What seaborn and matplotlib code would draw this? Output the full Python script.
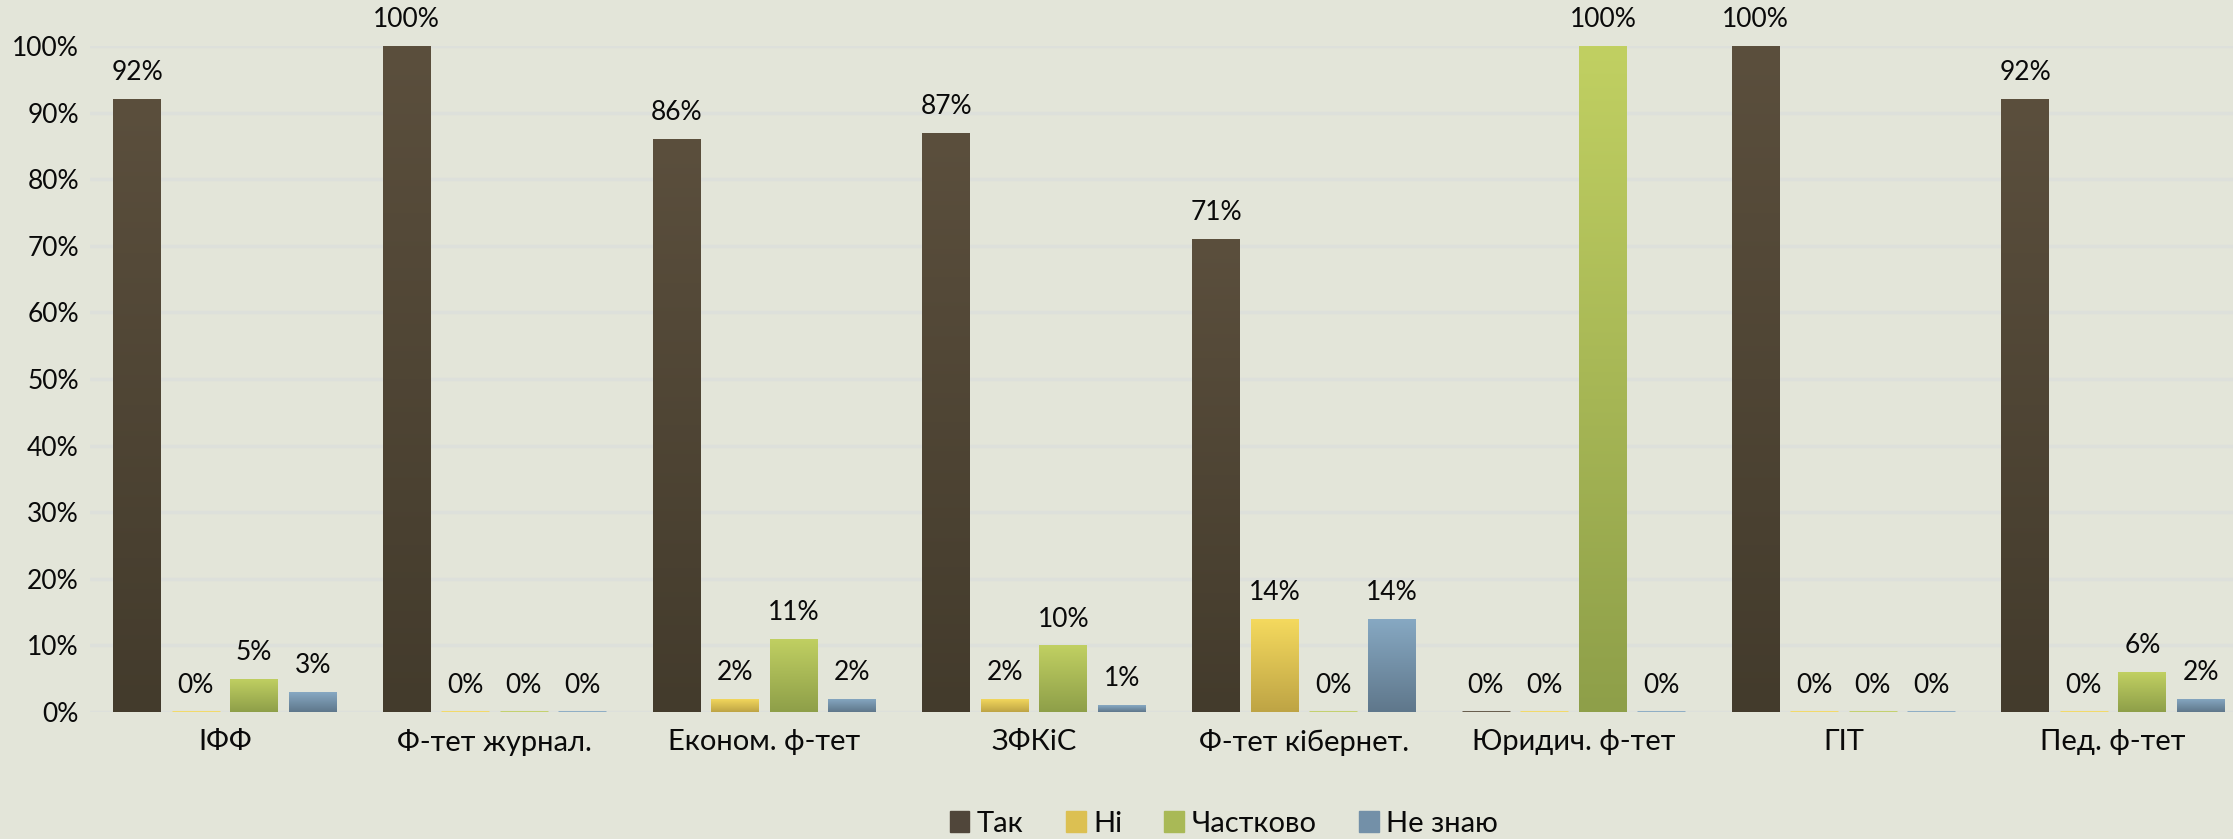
import numpy as np
import pandas as pd
import matplotlib.pyplot as plt
import matplotlib.patches as mpatches
from matplotlib.colors import LinearSegmentedColormap
import seaborn as sns

# --- data
faculties = ['ІФФ', 'Ф-тет журнал.', 'Економ. ф-тет', 'ЗФКіС',
             'Ф-тет кібернет.', 'Юридич. ф-тет', 'ГІТ', 'Пед. ф-тет']
answers = ['Так', 'Ні', 'Частково', 'Не знаю']
tak = [92, 100, 86, 87, 71, 0, 100, 92]
ni = [0, 0, 2, 2, 14, 0, 0, 0]
chastkovo = [5, 0, 11, 10, 0, 100, 0, 6]
ne_znayu = [3, 0, 2, 1, 14, 0, 0, 2]

# top / bottom colours of the gradient fills
tops = ['#5b4f3d', '#f5da5e', '#c1d062', '#87a9c3']
bottoms = ['#433b2c', '#bea445', '#8e9f49', '#5f778b']
mids = ['#50463a', '#dcc052', '#a9b956', '#7390a8']

bg = '#e3e5d9'

rows = []
for vals, ans in zip([tak, ni, chastkovo, ne_znayu], answers):
    for fac, v in zip(faculties, vals):
        rows.append({'faculty': fac, 'answer': ans, 'value': v})
df = pd.DataFrame(rows)

sns.set_theme(style='white')
plt.rcParams['font.family'] = ['Lato', 'DejaVu Sans']

fig = plt.figure(figsize=(22.33, 8.39), dpi=100, facecolor=bg)
# plot area runs slightly past the right edge of the image, as in the original
ax = fig.add_axes([90 / 2233, 1 - 712 / 839, (2248 - 90) / 2233, (712 - 46) / 839])
ax.set_facecolor(bg)

sns.barplot(data=df, x='faculty', y='value', hue='answer', order=faculties,
            hue_order=answers, palette=mids, width=0.868, gap=0.18,
            linewidth=0, ax=ax, legend=False, zorder=3)

ax.set_ylim(0, 100)
ax.set_xlim(-0.5, len(faculties) - 0.5)
ax.set_yticks(range(0, 101, 10))
ax.set_yticklabels([f'{t}%' for t in range(0, 101, 10)])
ax.yaxis.grid(True, color='#dde0db', linewidth=2.5, zorder=0)
ax.xaxis.grid(False)
ax.set_axisbelow(True)
for s in ax.spines.values():
    s.set_visible(False)
ax.tick_params(axis='both', length=0, colors='#0a0a0a')
ax.tick_params(axis='x', pad=12, labelsize=21)
ax.tick_params(axis='y', pad=8, labelsize=19)
ax.set_xlabel('')
ax.set_ylabel('')

# gradient fills + labels
grad = np.linspace(1, 0, 256).reshape(-1, 1)
for i, cont in enumerate(ax.containers):
    cmap = LinearSegmentedColormap.from_list(f'g{i}', [bottoms[i], tops[i]])
    for bar in cont:
        x0, w, h = bar.get_x(), bar.get_width(), bar.get_height()
        if h > 0:
            bar.set_facecolor('none')
            im = ax.imshow(grad, cmap=cmap, aspect='auto', vmin=0, vmax=1,
                           extent=[x0, x0 + w, 0, h], zorder=3)
            im.set_clip_path(bar)
        else:
            bar.set_edgecolor(tops[i])
            bar.set_linewidth(2)
        ax.annotate(f'{h:.0f}%', (x0 + w / 2, h), xytext=(0, 10),
                    textcoords='offset points', ha='center', va='bottom',
                    fontsize=19, color='#0a0a0a', annotation_clip=False)
ax.set_xlim(-0.5, len(faculties) - 0.5)
ax.set_ylim(0, 100)

handles = [mpatches.Patch(color=c, label=a) for c, a in zip(mids, answers)]
fig.legend(handles=handles, loc='center', bbox_to_anchor=(0.548, 0.018),
           ncol=4, frameon=False, fontsize=21, handlelength=0.68,
           handleheight=0.72, handletextpad=0.25, columnspacing=1.45,
           labelcolor='#0a0a0a')

fig.savefig('out.png', dpi=100, facecolor=bg)
